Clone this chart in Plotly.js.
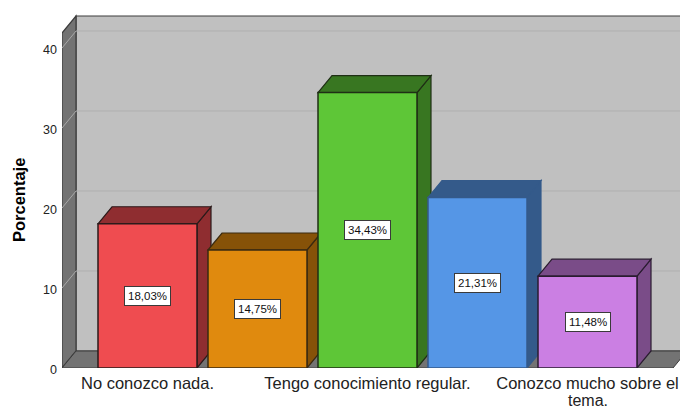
<!DOCTYPE html>
<html>
<head>
<meta charset="utf-8">
<script src="https://cdn.plot.ly/plotly-3.0.1.min.js"></script>
<style>html,body{margin:0;padding:0;background:#fff}#c{width:680px;height:408px}</style>
</head>
<body>
<div id="c"></div>
<script>
const tickCategories = ["No conozco nada.", "Tengo conocimiento regular.", "Conozco mucho sobre el"];
const tickPositions = [0, 2, 4];
const wrappedLine = "tema.";
const values = [18.03, 14.75, 34.43, 21.31, 11.48];
const valueLabels = ["18,03%", "14,75%", "34,43%", "21,31%", "11,48%"];
const tickValues = [0, 10, 20, 30, 40];
const frontColors = ["#EF4C50", "#E08A0E", "#5EC637", "#5596E6", "#CB7FE3"];
const sideColors = ["#8F2D30", "#865208", "#387621", "#345A8A", "#7A4C88"];
const edgeColors = ["#2b1a1a", "#3a2a10", "#1f2f15", "#345A8A", "#2a1c30"];

const W = 680, H = 408, mL = 62, mB = 40;
const pxX = 110, pxY = 8, cx0 = 147.5, depthX = 14 / pxX, depthY = 17 / pxY;
const x0 = (mL - cx0) / pxX, x1 = (W - cx0) / pxX;
const xRight = (673 - cx0) / pxX;
const yTop = (H - mB) / pxY, wallTop = 44 - depthY;
const barW = 99 / pxX;
const FONT = "Liberation Sans, Arial, sans-serif";

const poly = (pts, fill, line, lw) => ({
  type: "path", xref: "x", yref: "y", layer: "below",
  path: "M" + pts.map(p => p[0] + " " + p[1]).join("L") + "Z",
  fillcolor: fill, line: {color: line, width: lw === undefined ? 1 : lw}
});
const seg = (a, b, color, lw) => ({
  type: "line", xref: "x", yref: "y", layer: "below",
  x0: a[0], y0: a[1], x1: b[0], y1: b[1], line: {color, width: lw}
});

const shapes = [];
shapes.push(poly([[x0 + depthX, depthY], [x0 + depthX, wallTop + depthY], [xRight + depthX, wallTop + depthY], [xRight + depthX, depthY]], "#C0C0C0", "#3c3c3c", 1.2));
shapes.push(poly([[x0, 0], [x0 + depthX, depthY], [x0 + depthX, wallTop + depthY], [x0, wallTop]], "#737373", "#3c3c3c", 1.2));
shapes.push(poly([[x0, 0], [x0 + depthX, depthY], [xRight + depthX, depthY], [xRight, 0]], "#737373", "#3c3c3c", 1));
tickValues.slice(1).forEach(t => {
  shapes.push(seg([x0 + depthX, t + depthY], [xRight + depthX, t + depthY], "#AFAFAF", 1));
  shapes.push(seg([x0, t], [x0 + depthX, t + depthY], "#A8A8A8", 1));
});
values.forEach((v, i) => {
  const l = i - barW / 2, r = i + barW / 2;
  shapes.push(poly([[r, 0], [r + depthX, depthY], [r + depthX, v + depthY], [r, v]], sideColors[i], edgeColors[i], 1.2));
  shapes.push(poly([[l, v], [l + depthX, v + depthY], [r + depthX, v + depthY], [r, v]], sideColors[i], edgeColors[i], 1.2));
});

const trace = {
  type: "bar",
  x: values.map((_, i) => i),
  y: values,
  width: barW,
  marker: {color: frontColors, line: {color: edgeColors, width: 1.5}},
  hoverinfo: "skip"
};

const annotations = values.map((v, i) => ({
  x: i, y: v / 2, xref: "x", yref: "y",
  text: valueLabels[i], showarrow: false,
  bgcolor: "#FFFFFF", bordercolor: "#3a3a3a", borderwidth: 1, borderpad: 3,
  font: {family: FONT, size: 11.5, color: "#111"}
}));
annotations.push({
  x: tickPositions[2], y: 0, xref: "x", yref: "y", yanchor: "top", yshift: -23,
  text: wrappedLine, showarrow: false, borderpad: 0,
  font: {family: FONT, size: 16, color: "#222"}
});
annotations.push({
  x: (19 - mL) / (W - mL), xref: "paper", xanchor: "center", y: 21, yref: "y",
  text: "Porcentaje", textangle: -90, showarrow: false,
  font: {family: FONT, size: 16.5, color: "#000", weight: "bold"}
});

const layout = {
  width: W, height: H,
  margin: {l: mL, r: 0, t: 0, b: mB, pad: 0},
  paper_bgcolor: "#fff", plot_bgcolor: "#fff",
  showlegend: false,
  bargap: 0,
  xaxis: {
    range: [x0, x1], showgrid: false, zeroline: false, showline: false, ticks: "",
    tickmode: "array", tickvals: tickPositions, ticktext: tickCategories,
    tickangle: 0, ticklabelstandoff: 3,
    tickfont: {family: FONT, size: 16.5, color: "#222"}
  },
  yaxis: {
    range: [0, yTop], showgrid: false, zeroline: false, showline: false,
    tickmode: "array", tickvals: tickValues, ticktext: tickValues.map(String),
    ticks: "", ticklabelstandoff: 4, ticklabelshift: 2,
    tickfont: {family: FONT, size: 12.5, color: "#222"}
  },
  shapes, annotations
};
Plotly.newPlot("c", [trace], layout, {displayModeBar: false, staticPlot: true});
</script>
</body>
</html>
